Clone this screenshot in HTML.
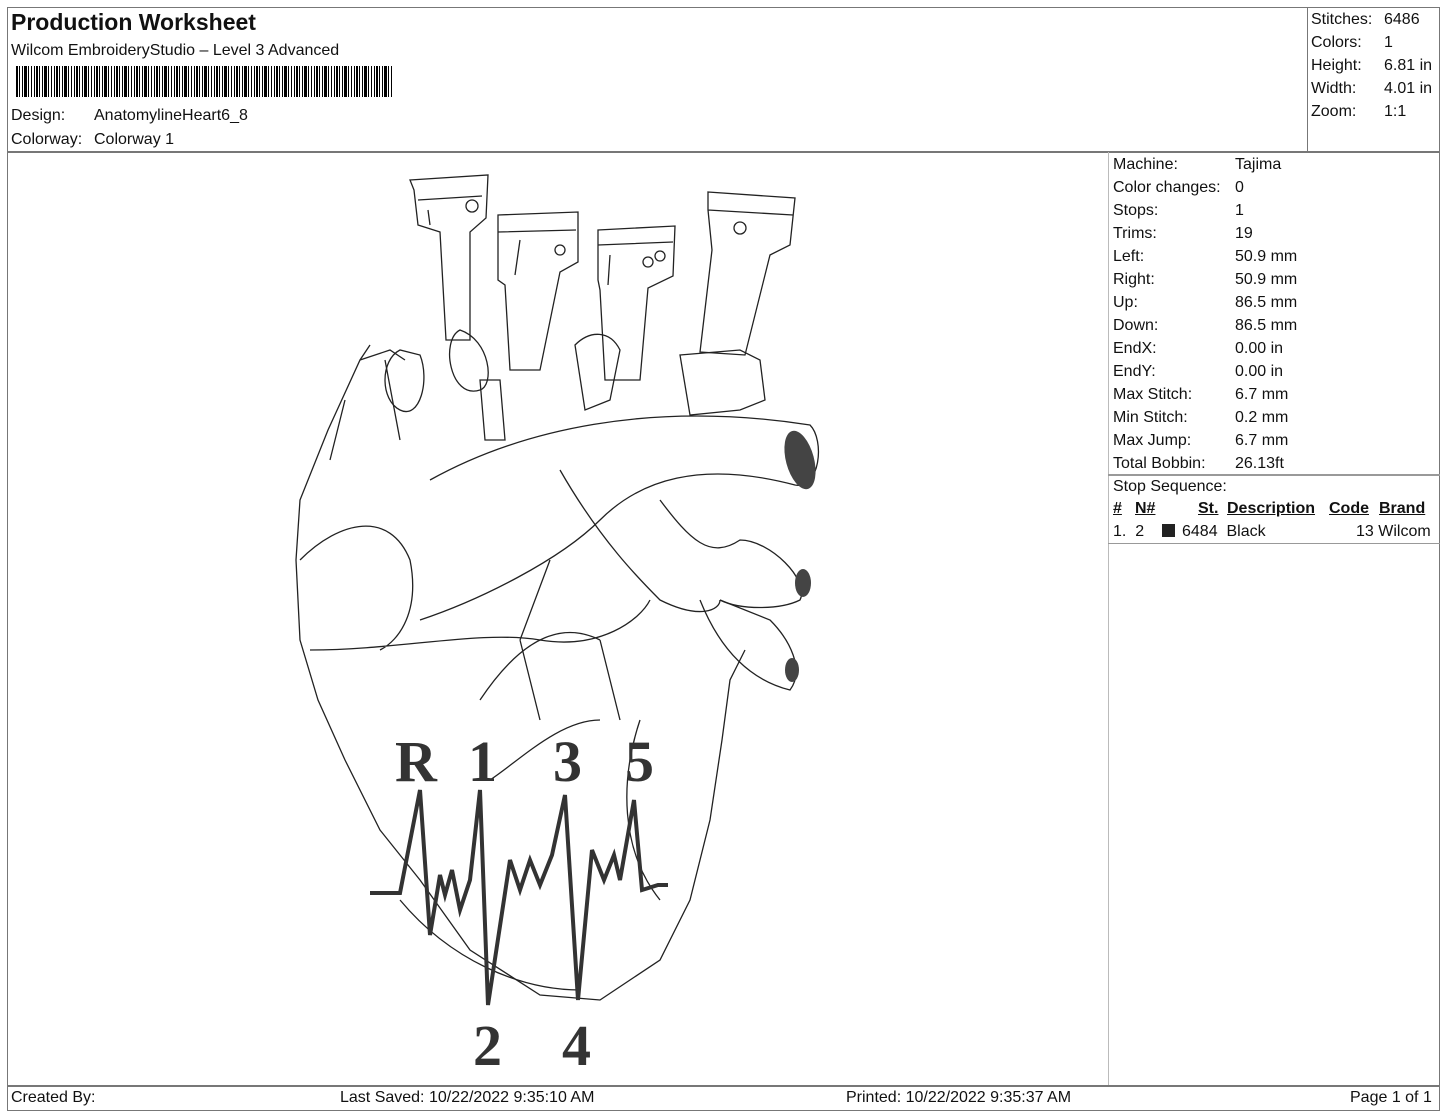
<!DOCTYPE html>
<html><head><meta charset="utf-8"><style>
body{margin:0;background:#fff;font-family:"Liberation Sans",Arial,sans-serif;color:#111}
.a{position:absolute;white-space:nowrap}
.l{position:absolute;background:#777}
.f{font-size:16px}
</style></head><body>
<div style="position:relative;width:1445px;height:1112px;overflow:hidden">
<div class="l" style="left:7px;top:7px;width:1433px;height:1px"></div>
<div class="l" style="left:7px;top:7px;width:1px;height:1104px"></div>
<div class="l" style="left:1439px;top:7px;width:1px;height:1104px"></div>
<div class="l" style="left:7px;top:151px;width:1433px;height:2px"></div>
<div class="l" style="left:1307px;top:7px;width:1px;height:145px"></div>
<div class="l" style="left:1108px;top:152px;width:1px;height:934px;background:#bbb"></div>
<div class="l" style="left:1108px;top:474px;width:332px;height:2px;background:#999"></div>
<div class="l" style="left:1108px;top:543px;width:332px;height:1px;background:#999"></div>
<div class="l" style="left:7px;top:1085px;width:1433px;height:2px"></div>
<div class="l" style="left:7px;top:1110px;width:1433px;height:1px"></div>

<div class="a" style="left:11px;top:9px;font-size:23px;font-weight:bold">Production Worksheet</div>
<div class="a f" style="left:11px;top:42px">Wilcom EmbroideryStudio – Level 3 Advanced</div>
<div class="a" style="left:16px;top:66px;width:376px;height:31px;background:repeating-linear-gradient(90deg,#000 0 2px,#fff 2px 3px,#000 3px 4px,#fff 4px 6px,#000 6px 7px,#fff 7px 8px,#000 8px 11px,#fff 11px 12px,#000 12px 13px,#fff 13px 15px,#000 15px 16px,#fff 16px 18px,#000 18px 19px,#fff 19px 20px)"></div>
<div class="a f" style="left:11px;top:107px">Design:</div>
<div class="a f" style="left:94px;top:107px">AnatomylineHeart6_8</div>
<div class="a f" style="left:11px;top:131px">Colorway:</div>
<div class="a f" style="left:94px;top:131px">Colorway 1</div>

<div class="a f" style="left:1311px;top:8px;line-height:23px">Stitches:<br>Colors:<br>Height:<br>Width:<br>Zoom:</div>
<div class="a f" style="left:1384px;top:8px;line-height:23px">6486<br>1<br>6.81 in<br>4.01 in<br>1:1</div>

<div class="a f" style="left:1113px;top:153px;line-height:23px">Machine:<br>Color changes:<br>Stops:<br>Trims:<br>Left:<br>Right:<br>Up:<br>Down:<br>EndX:<br>EndY:<br>Max Stitch:<br>Min Stitch:<br>Max Jump:<br>Total Bobbin:<br>Stop Sequence:</div>
<div class="a f" style="left:1235px;top:153px;line-height:23px">Tajima<br>0<br>1<br>19<br>50.9 mm<br>50.9 mm<br>86.5 mm<br>86.5 mm<br>0.00 in<br>0.00 in<br>6.7 mm<br>0.2 mm<br>6.7 mm<br>26.13ft</div>
<div class="a f" style="left:1113px;top:500px;font-weight:bold;text-decoration:underline">#</div>
<div class="a f" style="left:1135px;top:500px;font-weight:bold;text-decoration:underline">N#</div>
<div class="a f" style="left:1198px;top:500px;font-weight:bold;text-decoration:underline">St.</div>
<div class="a f" style="left:1227px;top:500px;font-weight:bold;text-decoration:underline">Description</div>
<div class="a f" style="left:1329px;top:500px;font-weight:bold;text-decoration:underline">Code</div>
<div class="a f" style="left:1379px;top:500px;font-weight:bold;text-decoration:underline">Brand</div>
<div class="a f" style="left:1113px;top:523px">1.&nbsp; 2</div>
<div class="a" style="left:1162px;top:524px;width:13px;height:13px;background:#222"></div>
<div class="a f" style="left:1182px;top:523px">6484&nbsp; Black</div>
<div class="a f" style="left:1356px;top:523px">13 Wilcom</div>

<div class="a f" style="left:11px;top:1089px">Created By:</div>
<div class="a f" style="left:340px;top:1089px">Last Saved: 10/22/2022 9:35:10 AM</div>
<div class="a f" style="left:846px;top:1089px">Printed: 10/22/2022 9:35:37 AM</div>
<div class="a f" style="left:1350px;top:1089px">Page 1 of 1</div>

<svg class="a" style="left:0;top:0" width="1445" height="1112" fill="none" stroke="#222" stroke-width="1.3">
<path d="M410 180 L488 175 L486 218 L470 232 L470 340 L446 340 L440 232 L418 225 L414 190Z M418 200 L482 196 M428 210 L430 225"/>
<circle cx="472" cy="206" r="6"/>
<path d="M498 215 L578 212 L578 262 L560 272 L540 370 L510 370 L505 285 L498 280Z M498 232 L576 230 M520 240 L515 275"/>
<circle cx="560" cy="250" r="5"/>
<path d="M598 230 L675 226 L673 276 L648 288 L640 380 L605 380 L600 290 L598 280Z M598 245 L673 242 M610 255 L608 285"/>
<circle cx="648" cy="262" r="5"/><circle cx="660" cy="256" r="5"/>
<path d="M708 192 L795 198 L790 245 L770 255 L745 355 L700 352 L712 250 L708 210Z M708 210 L793 215"/>
<circle cx="740" cy="228" r="6"/>
<path d="M575 345 C590 330 610 330 620 350 L610 400 L585 410 Z M680 355 L740 350 L760 360 L765 400 L740 410 L690 415 Z M480 380 L500 380 L505 440 L485 440 Z"/>
<path d="M370 345 L360 360 L328 430 L300 500 L296 560 L300 640 L318 700 L345 760 L380 830 L420 880 L470 950 L540 995 L600 1000 L660 960 L690 900 L710 820 L722 740 L730 680 L745 650"/>
<path d="M360 360 L390 350 L405 360 M385 360 L400 440 M345 400 L330 460"/>
<path d="M400 350 C380 360 380 400 400 410 C420 420 430 380 420 355Z M460 330 C440 340 450 400 480 390 C495 385 490 340 460 330Z"/>
<path d="M430 480 C520 430 650 400 810 425 C825 440 820 490 795 485 C700 460 640 480 600 520 C560 560 480 600 420 620"/>
<path d="M560 470 C600 540 640 580 660 600 C700 620 720 610 720 600 M660 500 C690 540 710 560 740 540 C770 540 810 580 800 600 C780 610 740 610 720 600"/>
<path d="M700 600 C720 650 750 680 790 690 C805 670 790 640 770 620 L720 600"/>
<path d="M310 650 C400 650 480 630 540 640 C600 650 640 620 650 600 M300 560 C340 520 390 510 410 560 C420 610 400 640 380 650"/>
<path d="M480 700 C520 640 560 620 600 640 M520 640 L540 720 M600 640 L620 720 M550 560 L520 640"/>
<path d="M600 720 C560 720 520 760 490 780 M640 720 C620 780 620 850 660 900"/>
<path d="M400 900 C450 960 520 990 580 990"/>
</svg>
<svg class="a" style="left:0;top:0" width="1445" height="1112" fill="none" stroke="#333" stroke-width="4">
<path d="M370 893 L400 893 L420 790 L430 935 L440 875 L445 895 L452 870 L460 910 L470 880 L480 790 L488 1005 L510 860 L520 890 L530 860 L540 885 L552 855 L565 795 L578 1000 L592 850 L604 880 L614 855 L620 880 L634 800 L642 890 L658 885 L668 885"/>
<ellipse cx="800" cy="460" rx="14" ry="30" fill="#444" stroke="none" transform="rotate(-15 800 460)"/>
<ellipse cx="803" cy="583" rx="8" ry="14" fill="#444" stroke="none"/>
<ellipse cx="792" cy="670" rx="7" ry="12" fill="#444" stroke="none"/>
</svg>
<div class="a" style="left:395px;top:728px;font-family:'Liberation Serif',serif;font-weight:bold;font-size:58px;color:#333">R</div>
<div class="a" style="left:468px;top:728px;font-family:'Liberation Serif',serif;font-weight:bold;font-size:58px;color:#333">1</div>
<div class="a" style="left:553px;top:728px;font-family:'Liberation Serif',serif;font-weight:bold;font-size:58px;color:#333">3</div>
<div class="a" style="left:625px;top:728px;font-family:'Liberation Serif',serif;font-weight:bold;font-size:58px;color:#333">5</div>
<div class="a" style="left:473px;top:1012px;font-family:'Liberation Serif',serif;font-weight:bold;font-size:58px;color:#333">2</div>
<div class="a" style="left:562px;top:1012px;font-family:'Liberation Serif',serif;font-weight:bold;font-size:58px;color:#333">4</div>
</div>
</body></html>
